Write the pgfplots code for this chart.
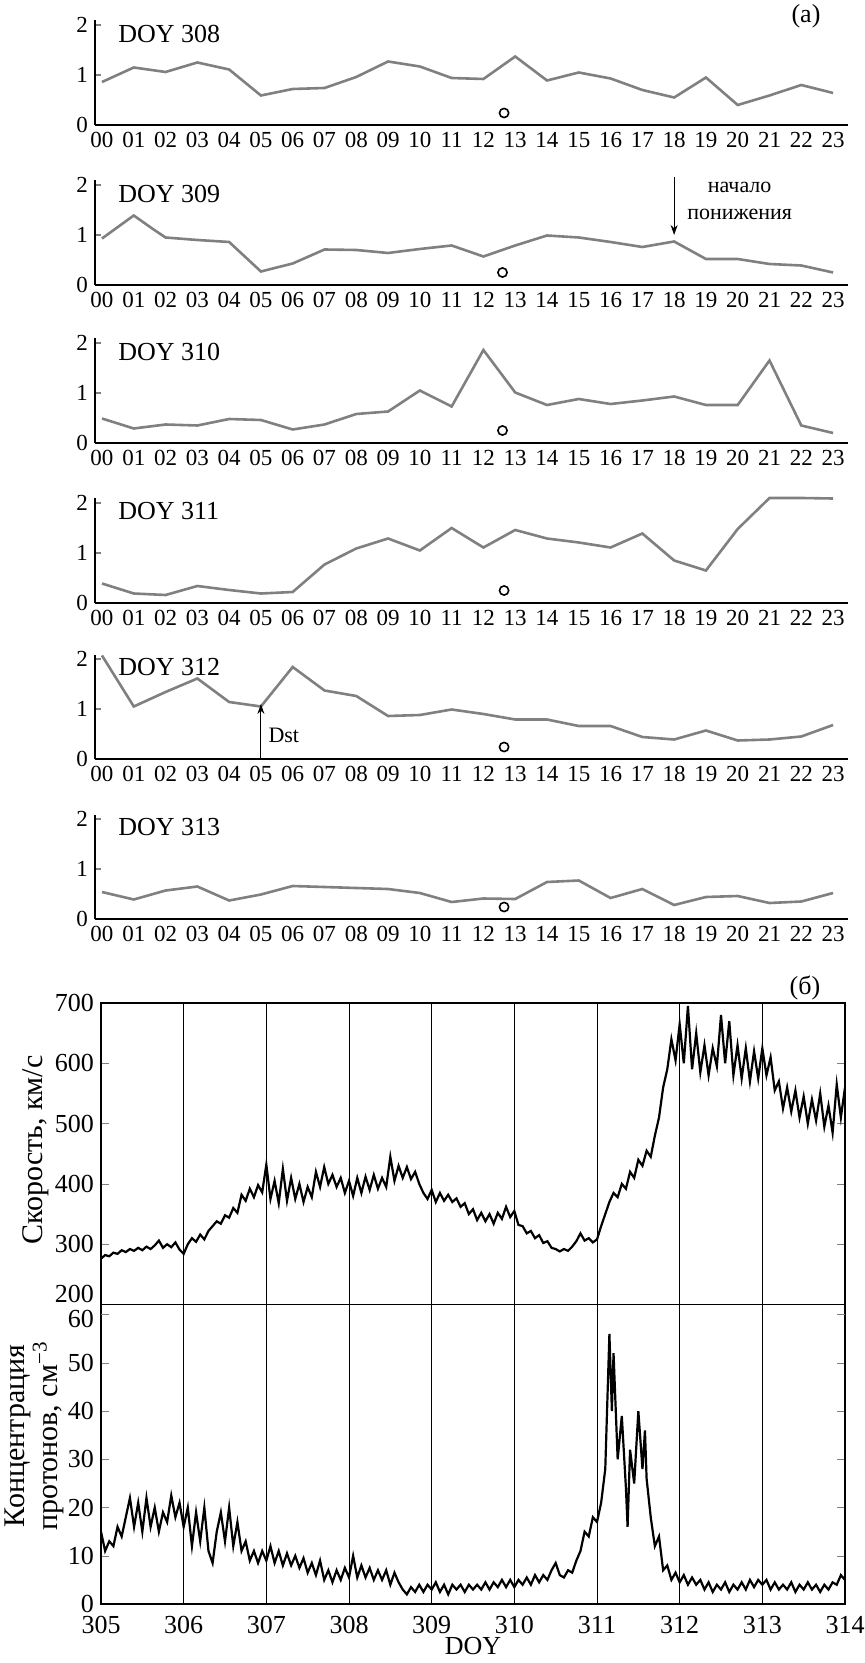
\documentclass[border=0pt]{standalone}
\usepackage{fontspec}
\setmainfont{Liberation Serif}
\usepackage{pgfplots}
\pgfplotsset{compat=1.18}
\usetikzlibrary{arrows.meta}

\pgfplotsset{
 panela/.style={
  scale only axis, width=376.5pt, height=52.25pt, anchor=south west,
  xmin=-0.22, xmax=23.47, ymin=0, ymax=2.09,
  axis x line=bottom, axis y line=left,
  axis line style={-, line width=0.6pt},
  xtick={0,...,23},
  xticklabels={00,01,02,03,04,05,06,07,08,09,10,11,12,13,14,15,16,17,18,19,20,21,22,23},
  xtick style={draw=none},
  ytick={0,1,2}, tick align=inside, major tick length=3pt,
  ytick style={line width=0.6pt},
  tick label style={font=\fontsize{11.5}{13}\selectfont},
  /pgf/number format/assume math mode=true,
  clip=false,
 },
 gline/.style={color=black!50, line width=1.3pt},
 circ/.style={only marks, mark=o, mark size=2.3pt, mark options={black, line width=0.8pt}},
}
\tikzset{doy/.style={font=\fontsize{13}{15}\selectfont, anchor=west, inner sep=0pt}}

\begin{document}
\begin{tikzpicture}
\useasboundingbox (0pt,0pt) rectangle (432pt,-831.5pt);

% ---------- panel (a) ----------
\begin{axis}[panela, at={(47.5pt,-62.5pt)}]
\addplot[gline] coordinates {(0,0.86)(1,1.15)(2,1.06)(3,1.25)(4,1.11)(5,0.59)(6,0.72)(7,0.74)(8,0.96)(9,1.27)(10,1.17)(11,0.94)(12,0.92)(13,1.37)(14,0.89)(15,1.05)(16,0.93)(17,0.70)(18,0.55)(19,0.95)(20,0.40)(21,0.59)(22,0.80)(23,0.64)};
\addplot[circ] coordinates {(12.65,0.24)};
\node[doy] at (axis cs:0.5,1.83) {DOY 308};
\end{axis}

\begin{axis}[panela, at={(47.5pt,-142.5pt)}]
\addplot[gline] coordinates {(0,0.93)(1,1.39)(1.6,1.12)(2,0.95)(3,0.90)(4,0.86)(5,0.27)(6,0.43)(7,0.71)(8,0.70)(9,0.64)(10,0.72)(11,0.79)(12,0.57)(13,0.79)(14,0.99)(15,0.95)(16,0.86)(17,0.76)(18,0.87)(19,0.52)(20,0.52)(21,0.42)(22,0.39)(23,0.25)};
\addplot[circ] coordinates {(12.6,0.25)};
\node[doy] at (axis cs:0.5,1.83) {DOY 309};
\draw[-{Stealth[length=5pt,width=3.5pt]}, line width=0.5pt] (axis cs:18,2.15) -- (axis cs:18,1.0);
\node[font=\fontsize{11}{13}\selectfont] at (axis cs:20.06,1.96) {начало};
\node[font=\fontsize{11}{13}\selectfont] at (axis cs:20.06,1.42) {понижения};
\end{axis}

\begin{axis}[panela, at={(47.5pt,-221.5pt)}]
\addplot[gline] coordinates {(0,0.49)(1,0.29)(2,0.37)(3,0.35)(4,0.48)(5,0.46)(6,0.27)(7,0.37)(8,0.58)(9,0.63)(10,1.05)(11,0.73)(12,1.86)(13,1.01)(14,0.76)(15,0.88)(16,0.78)(17,0.85)(18,0.93)(19,0.76)(20,0.76)(21,1.65)(22,0.35)(23,0.20)};
\addplot[circ] coordinates {(12.6,0.25)};
\node[doy] at (axis cs:0.5,1.83) {DOY 310};
\end{axis}

\begin{axis}[panela, at={(47.5pt,-301.5pt)}]
\addplot[gline] coordinates {(0,0.39)(1,0.19)(2,0.16)(3,0.34)(4,0.26)(5,0.19)(6,0.22)(7,0.77)(8,1.09)(9,1.29)(10,1.05)(11,1.50)(12,1.11)(13,1.46)(14,1.29)(15,1.21)(16,1.11)(17,1.39)(18,0.85)(19,0.65)(20,1.48)(21,2.10)(22,2.10)(23,2.09)};
\addplot[circ] coordinates {(12.65,0.25)};
\node[doy] at (axis cs:0.5,1.83) {DOY 311};
\end{axis}

\begin{axis}[panela, at={(47.5pt,-379.5pt)}]
\addplot[gline] coordinates {(0,2.07)(1,1.05)(2,1.34)(3,1.61)(4,1.14)(5,1.05)(6,1.84)(7,1.37)(8,1.26)(9,0.86)(10,0.88)(11,0.99)(12,0.90)(13,0.79)(14,0.79)(15,0.66)(16,0.66)(17,0.44)(18,0.39)(19,0.57)(20,0.37)(21,0.39)(22,0.45)(23,0.68)};
\addplot[circ] coordinates {(12.65,0.24)};
\node[doy] at (axis cs:0.5,1.83) {DOY 312};
\draw[-{Stealth[length=5pt,width=3.5pt]}, line width=0.5pt] (axis cs:5,0) -- (axis cs:5,1.1);
\node[font=\fontsize{11}{13}\selectfont] at (axis cs:5.72,0.48) {Dst};
\end{axis}

\begin{axis}[panela, at={(47.5pt,-459.5pt)}]
\addplot[gline] coordinates {(0,0.54)(1,0.39)(2,0.57)(3,0.65)(4,0.37)(5,0.49)(6,0.66)(7,0.64)(8,0.62)(9,0.60)(10,0.52)(11,0.34)(12,0.41)(13,0.40)(14,0.74)(15,0.77)(16,0.42)(17,0.60)(18,0.28)(19,0.44)(20,0.46)(21,0.32)(22,0.35)(23,0.52)};
\addplot[circ] coordinates {(12.65,0.24)};
\node[doy] at (axis cs:0.5,1.83) {DOY 313};
\end{axis}

\node[font=\fontsize{13}{15}\selectfont] at (403pt,-8pt) {(а)};

% ---------- panel (b) ----------
\begin{axis}[scale only axis, width=372pt, height=150.75pt, anchor=south west,
  at={(50.5pt,-652.25pt)},
  xmin=305, xmax=314, ymin=200, ymax=700,
  xtick={305,...,314}, xticklabels={}, xtick style={draw=none},
  xmajorgrids, grid style={black, line width=0.5pt},
  ytick={300,400,...,700}, tick align=inside, major tick length=4pt,
  extra y ticks={200}, extra y tick style={yticklabel style={yshift=5.5pt}},
  axis line style={line width=0.6pt},
  tick label style={font=\fontsize{13}{15}\selectfont},
  yticklabel style={inner ysep=0.5pt},
  /pgf/number format/assume math mode=true]
\addplot[black, line width=1.1pt] table {
x y
305.00 276
305.05 282
305.10 280
305.15 286
305.20 284
305.25 290
305.30 287
305.35 292
305.40 289
305.45 294
305.50 290
305.55 296
305.60 292
305.65 298
305.70 306
305.75 294
305.80 300
305.85 295
305.90 303
305.95 291
306.00 284
306.05 300
306.10 310
306.15 304
306.20 316
306.25 308
306.30 322
306.35 330
306.40 338
306.45 334
306.50 348
306.55 344
306.60 360
306.65 352
306.70 382
306.75 372
306.80 392
306.85 378
306.90 398
306.95 386
307.00 432
307.05 375
307.10 405
307.15 368
307.20 425
307.25 372
307.30 410
307.35 375
307.40 400
307.45 370
307.50 395
307.55 378
307.60 420
307.65 395
307.70 428
307.75 400
307.80 415
307.85 395
307.90 410
307.95 385
308.00 405
308.05 380
308.10 410
308.15 385
308.20 412
308.25 390
308.30 415
308.35 392
308.40 410
308.45 395
308.50 445
308.55 405
308.60 430
308.65 410
308.70 428
308.75 408
308.80 420
308.85 400
308.90 385
308.95 375
309.00 390
309.05 370
309.10 385
309.15 372
309.20 382
309.25 370
309.30 376
309.35 362
309.40 368
309.45 350
309.50 358
309.55 340
309.60 352
309.65 338
309.70 350
309.75 334
309.80 352
309.85 342
309.90 362
309.95 345
310.00 355
310.05 332
310.10 330
310.15 318
310.20 322
310.25 310
310.30 315
310.35 302
310.40 305
310.45 294
310.50 292
310.55 288
310.60 292
310.65 289
310.70 296
310.75 305
310.80 318
310.85 306
310.90 310
310.95 303
311.00 308
311.05 330
311.10 350
311.15 370
311.20 385
311.25 378
311.30 400
311.35 392
311.40 420
311.45 410
311.50 440
311.55 430
311.60 455
311.65 445
311.70 480
311.75 510
311.80 560
311.85 590
311.90 640
311.95 605
312.00 665
312.05 600
312.10 695
312.15 590
312.20 650
312.25 585
312.30 630
312.35 580
312.40 625
312.45 595
312.50 680
312.55 600
312.60 670
312.65 580
312.70 630
312.75 575
312.80 625
312.85 570
312.90 620
312.95 575
313.00 625
313.05 580
313.10 610
313.15 555
313.20 570
313.25 525
313.30 560
313.35 520
313.40 555
313.45 510
313.50 545
313.55 500
313.60 540
313.65 505
313.70 550
313.75 495
313.80 530
313.85 485
313.90 565
313.95 510
314.00 560
};
\end{axis}

\begin{axis}[scale only axis, width=372pt, height=149.75pt, anchor=south west,
  at={(50.5pt,-802pt)},
  xmin=305, xmax=314, ymin=0, ymax=62.1,
  xtick={305,...,314}, xtick style={draw=none},
  xmajorgrids, grid style={black, line width=0.5pt},
  ytick={0,10,...,50}, tick align=inside, major tick length=4pt,
  extra y ticks={60}, extra y tick style={yticklabel style={yshift=-2pt}},
  axis line style={line width=0.6pt},
  tick label style={font=\fontsize{13}{15}\selectfont},
  yticklabel style={inner ysep=0.5pt},
  xticklabel style={yshift=-2.5pt},
  /pgf/number format/assume math mode=true,
  xlabel={DOY}, xlabel style={font=\fontsize{13}{15}\selectfont, yshift=5pt}]
\addplot[black, line width=1.1pt] table {
x y
305.00 15
305.05 11
305.10 13
305.15 12
305.20 16
305.25 14
305.30 18
305.35 22
305.40 16
305.45 21
305.50 15
305.55 22
305.60 16
305.65 20
305.70 15
305.75 19
305.80 17
305.85 22.5
305.90 18
305.95 21
306.00 16
306.05 20
306.10 12
306.15 19
306.20 13
306.25 20
306.30 11
306.35 8.5
306.40 15
306.45 19
306.50 13
306.55 20
306.60 12
306.65 17
306.70 11
306.75 13
306.80 9
306.85 11
306.90 8.5
306.95 11
307.00 9
307.05 12
307.10 8.5
307.15 11
307.20 8
307.25 10.5
307.30 8
307.35 10
307.40 7.5
307.45 9.5
307.50 6.5
307.55 8.5
307.60 6
307.65 9
307.70 5
307.75 7
307.80 4.5
307.85 7
307.90 5
307.95 7.5
308.00 5.5
308.05 10
308.10 5.5
308.15 8
308.20 5.5
308.25 7.5
308.30 5
308.35 7
308.40 5
308.45 7
308.50 4
308.55 6.5
308.60 4.5
308.65 3
308.70 2
308.75 3.5
308.80 2.5
308.85 4
308.90 2.5
308.95 4
309.00 3
309.05 4.5
309.10 2.5
309.15 4
309.20 2
309.25 4
309.30 3
309.35 4
309.40 2.5
309.45 4
309.50 3
309.55 4
309.60 3
309.65 4.5
309.70 3
309.75 4.5
309.80 3.5
309.85 5
309.90 3.5
309.95 5
310.00 3.5
310.05 5
310.10 4
310.15 5.5
310.20 4
310.25 6
310.30 4.5
310.35 6
310.40 5
310.45 7
310.50 8.5
310.55 6
310.60 5.5
310.65 7
310.70 6.5
310.75 9
310.80 11
310.85 15
310.90 14
310.95 18
311.00 17
311.05 21
311.10 28
311.15 56
311.18 40
311.20 52
311.25 30
311.30 39
311.35 24
311.37 16
311.40 32
311.45 25
311.50 40
311.55 28
311.58 36
311.60 26
311.65 18
311.70 12
311.75 14
311.80 7
311.85 8
311.90 5
311.95 6.5
312.00 4.5
312.05 6
312.10 4
312.15 5.5
312.20 4
312.25 5
312.30 3
312.35 4.5
312.40 2.5
312.45 4
312.50 3
312.55 4.5
312.60 2.5
312.65 4
312.70 3
312.75 4.5
312.80 3
312.85 5
312.90 3.5
312.95 5
313.00 4
313.05 5
313.10 3
313.15 4.5
313.20 3
313.25 4
313.30 3
313.35 4.5
313.40 2.5
313.45 4
313.50 3
313.55 4.5
313.60 3
313.65 4
313.70 2.5
313.75 4
313.80 3
313.85 4.5
313.90 4
313.95 6
314.00 5
};
\end{axis}

\node[font=\fontsize{13}{15}\selectfont] at (402.5pt,-494pt) {(б)};
\node[rotate=90, font=\fontsize{15}{17}\selectfont] at (18pt,-575pt) {Скорость, км/с};
\node[rotate=90, align=center, inner sep=0pt, font=\fontsize{15}{14.5}\selectfont] at (17pt,-718pt) {Концентрация\\протонов, см\textsuperscript{−3}};
\end{tikzpicture}
\end{document}
